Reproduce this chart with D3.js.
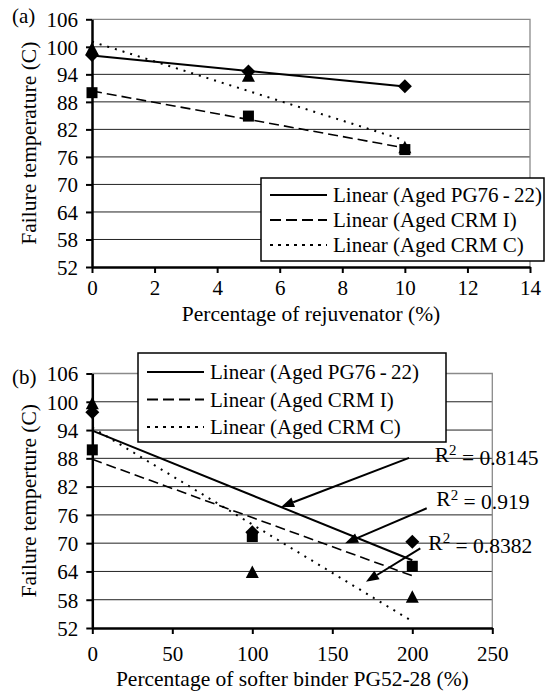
<!DOCTYPE html>
<html>
<head>
<meta charset="utf-8">
<script src="https://cdn.jsdelivr.net/npm/d3@7"></script>
<style>
  html, body { margin: 0; padding: 0; background: #fff; }
  svg text { font-family: "Liberation Serif", "Times New Roman", serif; fill: #000; }
</style>
</head>
<body>
<div id="chart"></div>
<script>
// ---- data ----
var seriesNames = ["Aged PG76\u2009-\u200922", "Aged CRM I", "Aged CRM C"];
var seriesMarks = ["diamond", "square", "triangle"];
var seriesDash = [null, "10,5", "2,6"];
var legendDash = [null, "11,5", "3,5"];

// (a) percentage of rejuvenator
var rejuvX = [0, 5, 10];
var rejuvPG = [98.2, 94.6, 91.4];
var rejuvCRMI = [90.0, 84.9, 77.6];
var rejuvCRMC = [99.5, 93.6, 78.0];

// (b) percentage of softer binder
var softX = [0, 100, 200];
var softPG = [97.8, 72.3, 70.3];
var softCRMI = [89.8, 71.4, 65.1];
var softCRMC = [99.6, 63.8, 58.5];

var yTicks = [52, 58, 64, 70, 76, 82, 88, 94, 100, 106];
var xTicksA = [0, 2, 4, 6, 8, 10, 12, 14];
var xTicksB = [0, 50, 100, 150, 200, 250];

// R^2 callouts in (b): label, text anchor point, arrow tail, arrow tip (data units)
var r2Labels = ["0.8145", "0.919", "0.8382"];
var r2TextAt = [[214, 88.9], [215, 79.4], [210, 70.2]];
var r2Tail = [[198, 88.1], [209, 77.4], [205, 68.9]];
var r2Tip = [[118, 77.7], [158, 70.0], [171, 61.8]];

var W = 549, H = 691;
var FONT = "Liberation Serif";
var svg = d3.select("#chart").append("svg")
    .attr("width", W)
    .attr("height", H);

function fit(xs, ys) {
  var mx = d3.mean(xs), my = d3.mean(ys);
  var sxy = d3.sum(xs, (x, i) => (x - mx) * (ys[i] - my));
  var sxx = d3.sum(xs, x => (x - mx) * (x - mx));
  var b = sxy / sxx;
  return {a: my - b * mx, b: b};
}

function marker(g, type, cx, cy) {
  if (type == "diamond") {
    g.append("path").attr("d", `M${cx},${cy-7}L${cx+7},${cy}L${cx},${cy+7}L${cx-7},${cy}Z`).attr("fill", "#000");
  } else if (type == "square") {
    g.append("rect").attr("x", cx-5.5).attr("y", cy-5.5).attr("width", 11).attr("height", 11).attr("fill", "#000");
  } else {
    g.append("path").attr("d", `M${cx},${cy-7}L${cx+6.5},${cy+5.5}L${cx-6.5},${cy+5.5}Z`).attr("fill", "#000");
  }
}

function panel(opt) {
  var x = d3.scaleLinear().domain(opt.xDomain).range([opt.left, opt.right]);
  var y = d3.scaleLinear().domain([52, 106]).range([opt.bottom, opt.top]);
  var g = svg.append("g");

  // gridlines
  g.selectAll(".grid").data(yTicks.slice(1, -1)).enter().append("line")
      .attr("x1", opt.left).attr("x2", opt.right)
      .attr("y1", d => y(d)).attr("y2", d => y(d))
      .attr("stroke", "#222").attr("stroke-width", 1);
  // plot border top/right
  g.append("path")
      .attr("d", `M${opt.left},${y(106)}H${opt.right}V${opt.bottom}`)
      .attr("fill", "none").attr("stroke", "#8a8a8a").attr("stroke-width", 1.3);

  // axes
  var xAxis = d3.axisBottom(x).tickValues(opt.xTicks).tickSize(6).tickSizeOuter(0).tickPadding(0);
  var yAxis = d3.axisLeft(y).tickValues(yTicks).tickSize(6).tickSizeOuter(0).tickPadding(8);
  var gx = g.append("g").attr("transform", `translate(0,${opt.bottom})`).call(xAxis);
  var gy = g.append("g").attr("transform", `translate(${opt.left},0)`).call(yAxis);
  [gx, gy].forEach(a => {
    a.attr("font-family", FONT);
    a.select(".domain").attr("stroke", "#000").attr("stroke-width", 2.5);
    a.selectAll(".tick line").attr("stroke", "#000").attr("stroke-width", 2);
    a.selectAll(".tick text").attr("font-size", 21).attr("fill", "#000");
  });
  gx.selectAll(".tick text").attr("y", opt.xTickDy).attr("dy", "0.35em");
  gy.selectAll(".tick text").attr("dy", "0.35em");

  // trend lines
  opt.series.forEach((ys, i) => {
    var f = fit(opt.xs, ys);
    var x0 = d3.min(opt.xs), x1 = d3.max(opt.xs);
    g.append("line")
        .attr("x1", x(x0)).attr("y1", y(f.a + f.b * x0))
        .attr("x2", x(x1)).attr("y2", y(f.a + f.b * x1))
        .attr("stroke", "#000")
        .attr("stroke-width", i == 1 ? 1.6 : 2)
        .attr("stroke-dasharray", seriesDash[i]);
  });
  // markers, triangles first so diamonds/squares sit on top like the figure
  [2, 0, 1].forEach(i => {
    opt.series[i].forEach((v, j) => marker(g, seriesMarks[i], x(opt.xs[j]), y(v)));
  });

  // labels
  g.append("text").attr("x", 12).attr("y", opt.tagY).attr("dy", "0.35em").attr("font-size", 21).text(opt.tag);
  g.append("text")
      .attr("transform", `translate(${opt.yTitleX},${(opt.top + opt.bottom) / 2}) rotate(-90)`)
      .attr("text-anchor", "middle").attr("dy", "0.35em")
      .attr("font-size", 21.5).text(opt.yTitle);
  g.append("text")
      .attr("x", (opt.left + opt.right) / 2).attr("y", opt.xTitleY)
      .attr("text-anchor", "middle").attr("dy", "0.35em")
      .attr("font-size", 21.5).text(opt.xTitle);

  // legend
  var L = opt.legend;
  var lg = g.append("g");
  lg.append("rect").attr("x", L.x).attr("y", L.y).attr("width", L.w).attr("height", L.h)
      .attr("fill", "#fff").attr("stroke", "#000").attr("stroke-width", 1.5);
  seriesNames.forEach((s, i) => {
    var ry = L.y + L.first + i * L.step;
    lg.append("line").attr("x1", L.x + 9).attr("x2", L.x + 66).attr("y1", ry).attr("y2", ry)
        .attr("stroke", "#000").attr("stroke-width", 2).attr("stroke-dasharray", legendDash[i]);
    lg.append("text").attr("x", L.x + 72).attr("y", ry).attr("dy", "0.35em")
        .attr("font-size", 21).text("Linear (" + s + ")");
  });
  return {x: x, y: y, g: g};
}

var pa = panel({
  xDomain: [0, 14], xTicks: xTicksA, left: 92, right: 530, top: 19.3, bottom: 267,
  xs: rejuvX, series: [rejuvPG, rejuvCRMI, rejuvCRMC], xTickDy: 21,
  tag: "(a)", tagY: 16, yTitle: "Failure temperature (C)", yTitleX: 28,
  xTitle: "Percentage of rejuvenator (%)", xTitleY: 313,
  legend: {x: 261, y: 178, w: 283, h: 83, first: 17, step: 25}
});

var pb = panel({
  xDomain: [0, 250], xTicks: xTicksB, left: 92.3, right: 492.3, top: 373.5, bottom: 628,
  xs: softX, series: [softPG, softCRMI, softCRMC], xTickDy: 26,
  tag: "(b)", tagY: 377, yTitle: "Failure temperture (C)", yTitleX: 28,
  xTitle: "Percentage of softer binder PG52-28 (%)", xTitleY: 678,
  legend: {x: 138, y: 353, w: 308, h: 89, first: 19, step: 27.5}
});

// R^2 callouts
r2Labels.forEach((lab, i) => {
  var tx = pb.x(r2Tail[i][0]), ty = pb.y(r2Tail[i][1]);
  var hx = pb.x(r2Tip[i][0]), hy = pb.y(r2Tip[i][1]);
  var ang = Math.atan2(hy - ty, hx - tx);
  var len = 13, half = 5;
  var bx = hx - len * Math.cos(ang), by = hy - len * Math.sin(ang);
  pb.g.append("line").attr("x1", tx).attr("y1", ty).attr("x2", bx).attr("y2", by)
      .attr("stroke", "#000").attr("stroke-width", 2);
  pb.g.append("path")
      .attr("d", `M${hx},${hy}L${bx - half * Math.sin(ang)},${by + half * Math.cos(ang)}L${bx + half * Math.sin(ang)},${by - half * Math.cos(ang)}Z`)
      .attr("fill", "#000");
  var t = pb.g.append("text")
      .attr("x", pb.x(r2TextAt[i][0])).attr("y", pb.y(r2TextAt[i][1]))
      .attr("dy", "0.35em").attr("font-size", 21.5);
  t.append("tspan").text("R");
  t.append("tspan").attr("dy", "-0.45em").attr("font-size", 15).text("2");
  t.append("tspan").attr("dy", "0.45em").text(" = " + lab);
});
</script>
</body>
</html>
